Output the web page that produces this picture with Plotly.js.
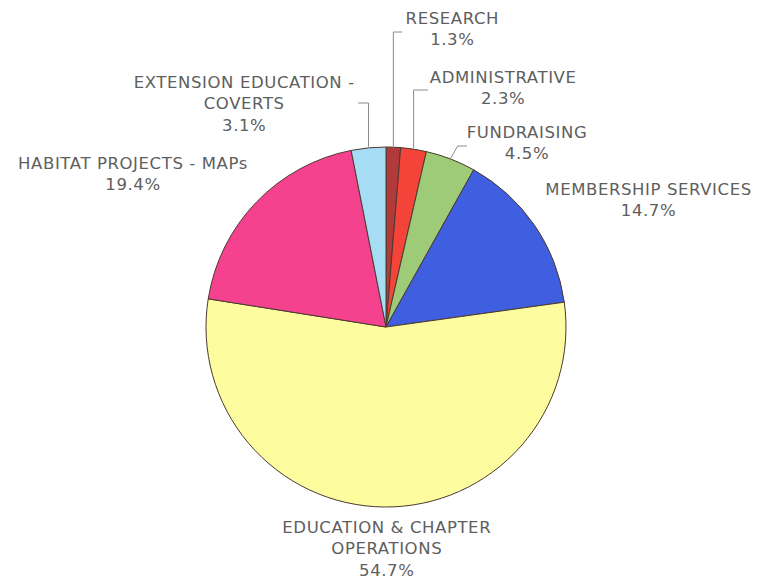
<!DOCTYPE html>
<html>
<head>
<meta charset="utf-8">
<script src="https://cdn.plot.ly/plotly-3.0.1.min.js"></script>
<style>
html,body{margin:0;padding:0;background:#fff;}
#chart{width:773px;height:580px;}
#chart .annotation-text{letter-spacing:0.6px;}
</style>
</head>
<body>
<div id="chart"></div>
<script>
// ---- data ----
const categories = [
  "RESEARCH",
  "ADMINISTRATIVE",
  "FUNDRAISING",
  "MEMBERSHIP SERVICES",
  "EDUCATION & CHAPTER OPERATIONS",
  "HABITAT PROJECTS - MAPs",
  "EXTENSION EDUCATION - COVERTS"
];
const values = [1.3, 2.3, 4.5, 14.7, 54.7, 19.4, 3.1];
const labelLines = [
  ["RESEARCH"],
  ["ADMINISTRATIVE"],
  ["FUNDRAISING"],
  ["MEMBERSHIP SERVICES"],
  ["EDUCATION & CHAPTER", "OPERATIONS"],
  ["HABITAT PROJECTS - MAPs"],
  ["EXTENSION EDUCATION -", "COVERTS"]
];
const colors = ["#b23a3a", "#f4443a", "#9dcb78", "#3f5ee0", "#fdfc9e", "#f5428f", "#a7dcf5"];

// ---- layout config (pixels) ----
const W = 773, H = 580;
const CX = 386, CY = 327, R = 180;
// label centre positions
const labelPos = [
  [452, 29], [503, 88], [527, 143], [648, 200], [387, 549], [133, 174], [244, 104]
];
// leader lines: [elbowY, endX] or null
const leaders = [
  [32, 402], [90, 428], [146, 467], null, null, null, [103, 358]
];

const px = x => x / W;
const py = y => 1 - y / H;

const total = values.reduce((a, b) => a + b, 0);
const shapes = [];
const annotations = [];
let cum = 0;
values.forEach((v, i) => {
  const mid = (cum + v / 2) / total;
  cum += v;
  const ang = mid * 2 * Math.PI;
  const ex = CX + R * Math.sin(ang);
  const ey = CY - R * Math.cos(ang);
  const pct = (v / total * 100).toFixed(1) + "%";
  const txt = labelLines[i].concat([pct]).join("<br>");
  annotations.push({
    x: px(labelPos[i][0]), y: py(labelPos[i][1]),
    xref: "paper", yref: "paper",
    xanchor: "center", yanchor: "middle",
    text: txt, showarrow: false, align: "center",
    font: {family: "DejaVu Sans, Arial, sans-serif", size: 16.5, color: "#5e5e5e"}
  });
  const L = leaders[i];
  if (L) {
    const elbowX = (i === 2) ? ex + 7 : ex;
    shapes.push({
      type: "path", xref: "paper", yref: "paper",
      path: `M ${px(ex)} ${py(ey - 1)} L ${px(elbowX)} ${py(L[0])} L ${px(L[1])} ${py(L[0])}`,
      line: {color: "#8a8a8a", width: 1}
    });
  }
});

const trace = {
  type: "pie",
  labels: categories,
  values: values,
  sort: false,
  direction: "clockwise",
  rotation: 0,
  textinfo: "none",
  hoverinfo: "label+percent",
  marker: {colors: colors, line: {color: "#4a3a30", width: 1}},
  domain: {x: [px(CX - R), px(CX + R)], y: [py(CY + R), py(CY - R)]},
  showlegend: false
};

Plotly.newPlot("chart", [trace], {
  width: W, height: H,
  margin: {l: 0, r: 0, t: 0, b: 0},
  paper_bgcolor: "#ffffff",
  showlegend: false,
  shapes: shapes,
  annotations: annotations
}, {displayModeBar: false, staticPlot: true});
</script>
</body>
</html>
